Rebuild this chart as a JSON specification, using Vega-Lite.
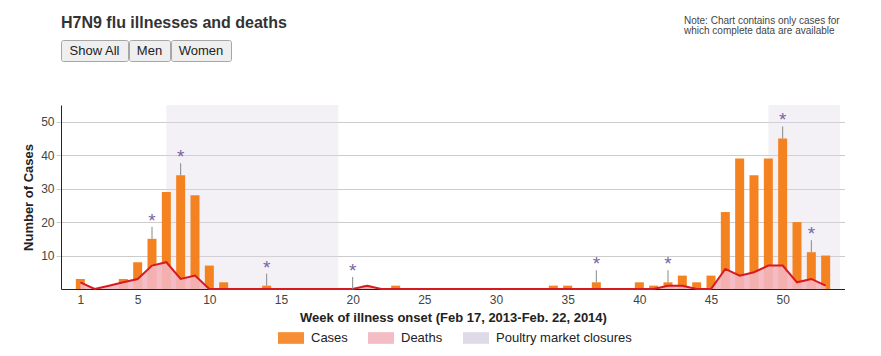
{
  "$schema": "https://vega.github.io/schema/vega-lite/v6.json",
  "background": "white",
  "padding": {"left": 22, "top": 14, "right": 0, "bottom": 0},
  "config": {
    "font": "Liberation Sans",
    "view": {"stroke": null},
    "title": {"font": "Liberation Sans"}
  },
  "bounds": "flush",
  "spacing": 65,
  "datasets": {
    "weeks": [
      {"week": 1, "cases": 3, "deaths": 2},
      {"week": 2, "cases": 0, "deaths": 0},
      {"week": 3, "cases": 0, "deaths": 1},
      {"week": 4, "cases": 3, "deaths": 2},
      {"week": 5, "cases": 8, "deaths": 3},
      {"week": 6, "cases": 15, "deaths": 7, "marker": 1},
      {"week": 7, "cases": 29, "deaths": 8},
      {"week": 8, "cases": 34, "deaths": 3, "marker": 1},
      {"week": 9, "cases": 28, "deaths": 4},
      {"week": 10, "cases": 7, "deaths": 0},
      {"week": 11, "cases": 2, "deaths": 0},
      {"week": 12, "cases": 0, "deaths": 0},
      {"week": 13, "cases": 0, "deaths": 0},
      {"week": 14, "cases": 1, "deaths": 0, "marker": 1},
      {"week": 15, "cases": 0, "deaths": 0},
      {"week": 16, "cases": 0, "deaths": 0},
      {"week": 17, "cases": 0, "deaths": 0},
      {"week": 18, "cases": 0, "deaths": 0},
      {"week": 19, "cases": 0, "deaths": 0},
      {"week": 20, "cases": 0, "deaths": 0, "marker": 1},
      {"week": 21, "cases": 1, "deaths": 1},
      {"week": 22, "cases": 0, "deaths": 0},
      {"week": 23, "cases": 1, "deaths": 0},
      {"week": 24, "cases": 0, "deaths": 0},
      {"week": 25, "cases": 0, "deaths": 0},
      {"week": 26, "cases": 0, "deaths": 0},
      {"week": 27, "cases": 0, "deaths": 0},
      {"week": 28, "cases": 0, "deaths": 0},
      {"week": 29, "cases": 0, "deaths": 0},
      {"week": 30, "cases": 0, "deaths": 0},
      {"week": 31, "cases": 0, "deaths": 0},
      {"week": 32, "cases": 0, "deaths": 0},
      {"week": 33, "cases": 0, "deaths": 0},
      {"week": 34, "cases": 1, "deaths": 0},
      {"week": 35, "cases": 1, "deaths": 0},
      {"week": 36, "cases": 0, "deaths": 0},
      {"week": 37, "cases": 2, "deaths": 0, "marker": 1},
      {"week": 38, "cases": 0, "deaths": 0},
      {"week": 39, "cases": 0, "deaths": 0},
      {"week": 40, "cases": 2, "deaths": 0},
      {"week": 41, "cases": 1, "deaths": 0},
      {"week": 42, "cases": 2, "deaths": 1, "marker": 1},
      {"week": 43, "cases": 4, "deaths": 1},
      {"week": 44, "cases": 2, "deaths": 0},
      {"week": 45, "cases": 4, "deaths": 0},
      {"week": 46, "cases": 23, "deaths": 6},
      {"week": 47, "cases": 39, "deaths": 4},
      {"week": 48, "cases": 34, "deaths": 5},
      {"week": 49, "cases": 39, "deaths": 7},
      {"week": 50, "cases": 45, "deaths": 7, "marker": 1},
      {"week": 51, "cases": 20, "deaths": 2},
      {"week": 52, "cases": 11, "deaths": 3, "marker": 1},
      {"week": 53, "cases": 10, "deaths": 1}
    ],
    "closures": [
      {"start": 7, "end": 19},
      {"start": 49, "end": 54}
    ]
  },
  "vconcat": [
    {
      "bounds": "flush",
      "spacing": 1,
      "hconcat": [
        {
          "width": 67, "height": 21,
          "view": {"fill": "#efefef", "stroke": "#a6a6a6", "cornerRadius": 2},
          "title": {"text": "H7N9 flu illnesses and deaths", "anchor": "start", "fontSize": 16, "fontWeight": "bold", "color": "#333333", "offset": 9},
          "data": {"values": [{"label": "Show All"}]},
          "mark": {"type": "text", "fontSize": 13, "color": "#222222"},
          "encoding": {"text": {"field": "label"}}
        },
        {
          "width": 41, "height": 21,
          "view": {"fill": "#efefef", "stroke": "#a6a6a6", "cornerRadius": 2},
          "data": {"values": [{"label": "Men"}]},
          "mark": {"type": "text", "fontSize": 13, "color": "#222222"},
          "encoding": {"text": {"field": "label"}}
        },
        {
          "width": 60, "height": 21,
          "view": {"fill": "#efefef", "stroke": "#a6a6a6", "cornerRadius": 2},
          "data": {"values": [{"label": "Women"}]},
          "mark": {"type": "text", "fontSize": 13, "color": "#222222"},
          "encoding": {"text": {"field": "label"}}
        },
        {
          "width": 451, "height": 21,
          "data": {"values": [{"label": ""}]},
          "mark": {"type": "text"},
          "encoding": {"text": {"field": "label"}}
        },
        {
          "width": 155, "height": 21,
          "title": {"text": ["Note: Chart contains only cases for", "which complete data are available"], "anchor": "start", "fontSize": 10, "fontWeight": "normal", "color": "#444444", "offset": 4, "lineHeight": 10},
          "data": {"values": [{"label": ""}]},
          "mark": {"type": "text"},
          "encoding": {"text": {"field": "label"}}
        }
      ]
    },
    {
      "width": 784,
      "height": 184,
      "data": {"name": "weeks"},
      "layer": [
        {
          "data": {"name": "closures"},
          "mark": {"type": "rect", "opacity": 0.35},
          "encoding": {
            "x": {"field": "start", "type": "quantitative", "scale": {"domain": [0, 54], "nice": false, "zero": false}, "axis": {"title": "Week of illness onset (Feb 17, 2013-Feb. 22, 2014)", "values": [1, 5, 10, 15, 20, 25, 30, 35, 40, 45, 50], "ticks": false, "grid": false, "domainColor": "#222222", "labelPadding": 5, "labelFontSize": 12, "labelColor": "#444444", "labelFlush": false, "titleFontSize": 13, "titleFontWeight": "bold", "titleColor": "#222222", "titlePadding": 6}},
            "x2": {"field": "end"},
            "color": {"datum": "Poultry market closures", "type": "nominal", "scale": {"domain": ["Cases", "Deaths", "Poultry market closures"], "range": ["#f58220", "#f3b5bf", "#dcd6e6"]}, "legend": {"title": null, "orient": "none", "legendX": 217, "legendY": 285, "direction": "horizontal", "symbolType": "M-1,-0.45H1V0.45H-1Z", "symbolSize": 676, "symbolStrokeWidth": 0, "symbolOpacity": 1, "labelFontSize": 13, "labelColor": "#222222", "columnPadding": 20, "labelOffset": 7}}
          }
        },
        {
          "mark": {"type": "bar", "size": 9},
          "encoding": {
            "x": {"field": "week", "type": "quantitative", "axis": {"title": "Week of illness onset (Feb 17, 2013-Feb. 22, 2014)"}},
            "y": {"field": "cases", "type": "quantitative", "title": "Number of Cases", "scale": {"domain": [0, 55], "nice": false}, "axis": {"values": [10, 20, 30, 40, 50], "grid": true, "gridColor": "#cccccc", "tickColor": "#cccccc", "tickSize": 5, "domainColor": "#222222", "labelPadding": 2, "labelFontSize": 12, "labelColor": "#444444", "titleFontSize": 13, "titleFontWeight": "bold", "titleColor": "#222222", "titlePadding": 5}},
            "color": {"datum": "Cases", "type": "nominal"}
          }
        },
        {
          "mark": {"type": "area", "opacity": 0.9},
          "encoding": {
            "x": {"field": "week", "type": "quantitative", "axis": {"title": "Week of illness onset (Feb 17, 2013-Feb. 22, 2014)"}},
            "y": {"field": "deaths", "type": "quantitative", "title": "Number of Cases"},
            "color": {"datum": "Deaths", "type": "nominal"}
          }
        },
        {
          "mark": {"type": "line", "color": "#d71920", "strokeWidth": 2},
          "encoding": {
            "x": {"field": "week", "type": "quantitative", "axis": {"title": "Week of illness onset (Feb 17, 2013-Feb. 22, 2014)"}},
            "y": {"field": "deaths", "type": "quantitative", "title": "Number of Cases"}
          }
        },
        {
          "transform": [{"filter": "datum.marker === 1"}],
          "mark": {"type": "rule", "color": "#888888", "strokeWidth": 1, "y2Offset": -12},
          "encoding": {
            "x": {"field": "week", "type": "quantitative", "axis": {"title": "Week of illness onset (Feb 17, 2013-Feb. 22, 2014)"}},
            "y": {"field": "cases", "type": "quantitative", "title": "Number of Cases"},
            "y2": {"field": "cases"}
          }
        },
        {
          "transform": [{"filter": "datum.marker === 1"}],
          "mark": {"type": "text", "text": "*", "fontSize": 19, "color": "#7a63a6", "baseline": "alphabetic", "dy": -12},
          "encoding": {
            "x": {"field": "week", "type": "quantitative", "axis": {"title": "Week of illness onset (Feb 17, 2013-Feb. 22, 2014)"}},
            "y": {"field": "cases", "type": "quantitative", "title": "Number of Cases"}
          }
        }
      ]
    }
  ]
}
